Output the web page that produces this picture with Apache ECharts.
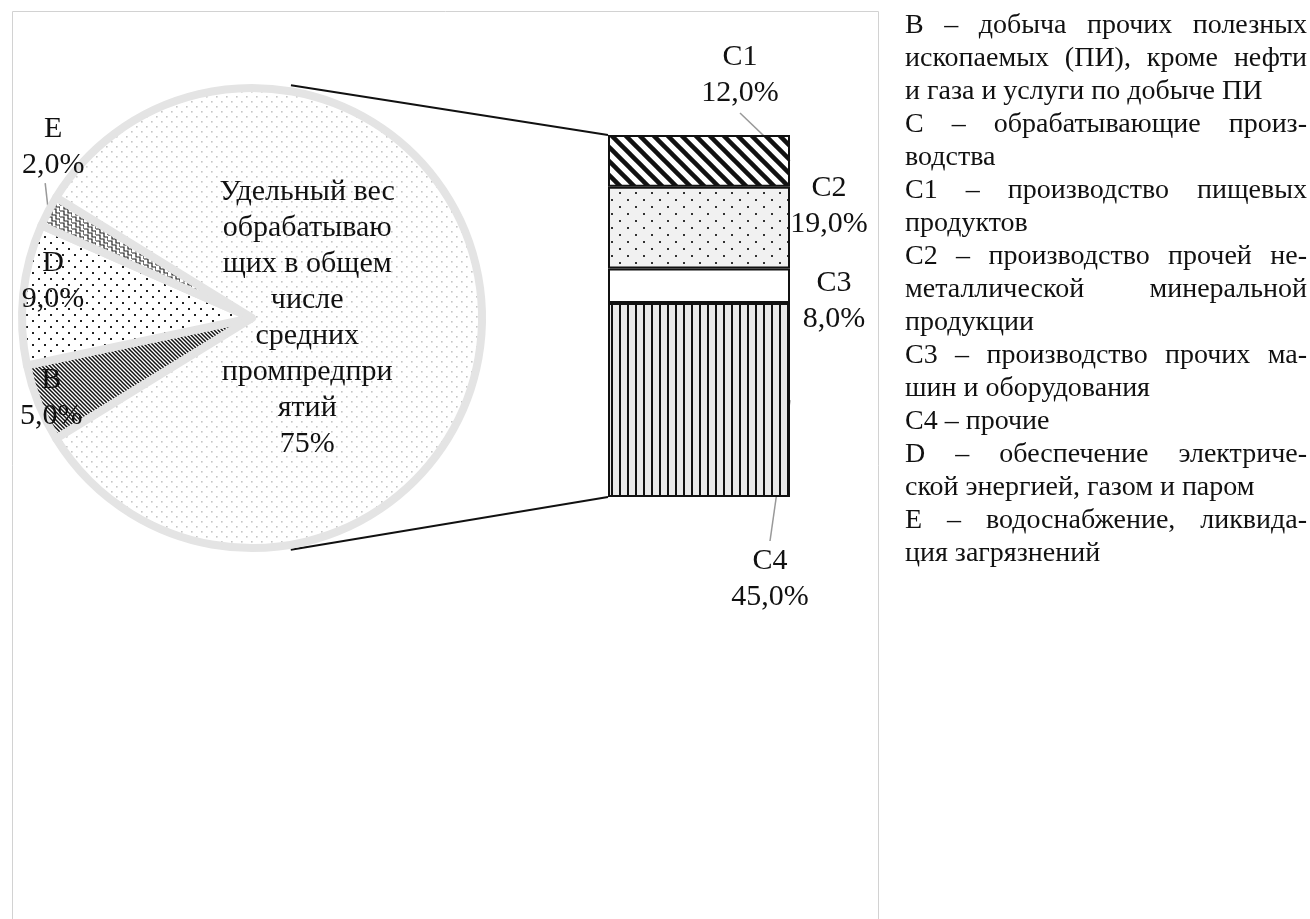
<!DOCTYPE html>
<html><head><meta charset="utf-8">
<script src="https://cdn.jsdelivr.net/npm/echarts@6/dist/echarts.min.js"></script>
<style>html,body{margin:0;padding:0;background:#fff}#c{width:1310px;height:919px}</style>
</head><body><div id="c"></div>
<script>
// ---------- data ----------
const pieNames = ['B', 'D', 'E'];
const pieValues = [5, 9, 2];
const mainName = 'Удельный вес\nобрабатываю\nщих в общем\nчисле\nсредних\nпромпредпри\nятий';
const mainValue = 75;
const barNames = ['C1', 'C2', 'C3', 'C4'];
const barValues = [12, 19, 8, 45];
const legendLines = [
  ['B – добыча прочих полезных', 1],
  ['ископаемых (ПИ), кроме нефти', 1],
  ['и газа и услуги по добыче ПИ', 0],
  ['C – обрабатывающие произ-', 1],
  ['водства', 0],
  ['C1 – производство пищевых', 1],
  ['продуктов', 0],
  ['C2 – производство прочей не-', 1],
  ['металлической минеральной', 1],
  ['продукции', 0],
  ['C3 – производство прочих ма-', 1],
  ['шин и оборудования', 0],
  ['C4 – прочие', 0],
  ['D – обеспечение электриче-', 1],
  ['ской энергией, газом и паром', 0],
  ['E – водоснабжение, ликвида-', 1],
  ['ция загрязнений', 0]
];

// ---------- layout / style ----------
const FONT = '"Liberation Serif", "Times New Roman", serif';
const PIE_CX = 252, PIE_CY = 318, PIE_R = 230;
const GRID = {left: 608, top: 135, width: 182, height: 362};
const LEG = {x: 905, right: 1307, y0: 26, dy: 33, size: 28};

function tile(w, h, draw) {
  const c = document.createElement('canvas'); c.width = w; c.height = h;
  const g = c.getContext('2d'); draw(g, w, h); return c;
}
const pats = {
  main: tile(10, 10, g => { g.fillStyle = '#fff'; g.fillRect(0,0,10,10); g.fillStyle = '#c6c6c6'; g.fillRect(1,1,1.6,1.6); g.fillRect(6,6,1.6,1.6); }),
  E: tile(12, 12, g => { g.fillStyle = '#fff'; g.fillRect(0,0,12,12); g.strokeStyle = '#222'; g.lineWidth = 1.2;
      for (const o of [-12, -6, 0, 6, 12]) { g.beginPath(); g.moveTo(0,1+o); g.lineTo(4,1+o); g.lineTo(4,5+o); g.lineTo(8,5+o); g.lineTo(8,9+o); g.lineTo(12,9+o); g.lineTo(12,13+o); g.stroke(); } }),
  D: tile(12, 12, g => { g.fillStyle = '#fff'; g.fillRect(0,0,12,12); g.fillStyle = '#222'; g.fillRect(2,2,2,2); g.fillRect(8,8,2,2); }),
  B: tile(4, 4, g => { g.fillStyle = '#fff'; g.fillRect(0,0,4,4); g.strokeStyle = '#111'; g.lineWidth = 1.5;
      for (const k of [-4, 0, 4]) { g.beginPath(); g.moveTo(k-1,-1); g.lineTo(k+5,5); g.stroke(); } }),
  C1: tile(14, 14, g => { g.fillStyle = '#fff'; g.fillRect(0,0,14,14); g.strokeStyle = '#111'; g.lineWidth = 4.5;
      for (const k of [-14, 0, 14]) { g.beginPath(); g.moveTo(k-2,-2); g.lineTo(k+16,16); g.stroke(); } }),
  C2: tile(16, 14, g => { g.fillStyle = '#f1f1f1'; g.fillRect(0,0,16,14); g.fillStyle = '#333'; g.fillRect(3,3,2,2); g.fillRect(11,10,2,2); }),
  C3: tile(4, 4, g => { g.fillStyle = '#fff'; g.fillRect(0,0,4,4); }),
  C4: tile(8, 8, g => { g.fillStyle = '#e9e9e9'; g.fillRect(0,0,8,8); g.fillStyle = '#111'; g.fillRect(3,0,2,8); })
};
const fill = k => ({image: pats[k], repeat: 'repeat'});
const pct = v => v.toFixed(1).replace('.', ',') + '%';

// pie geometry derived from data
const smallTotal = pieValues.reduce((a, b) => a + b, 0);
const barTotal = barValues.reduce((a, b) => a + b, 0);
const total = smallTotal + mainValue;
const startAngle = 180 + smallTotal / total * 180;
const allValues = pieValues.concat([mainValue]);
const mids = []; { let a = startAngle; allValues.forEach(v => { const s = v / total * 360; mids.push(a - s / 2); a -= s; }); }
// label placement: [radius factor, angle tweak]
const labelPlace = [[0.94, 0], [0.88, -4.7], [1.14, -13], [0.24, 0]];

const pieData = pieNames.map((n, i) => ({name: n, value: pieValues[i], itemStyle: {color: fill(n)}}))
  .concat([{name: mainName, value: mainValue, itemStyle: {color: fill('main')}}]);

const labelBase = {fontFamily: FONT, fontSize: 30, lineHeight: 36, color: '#111'};
// bar label placement: position, offset
const barLabelPos = {C1: ['top', [41, -19]], C2: ['right', [34, -22]], C3: ['right', [39, 15]], C4: ['bottom', [71, 41]]};

const barSeries = barNames.slice().reverse().map(n => {
  const i = barNames.indexOf(n);
  return {
    type: 'bar', name: n, stack: 'c', barWidth: '100%', data: [barValues[i]],
    itemStyle: {color: fill(n), borderColor: '#111', borderWidth: 2},
    label: Object.assign({show: true, position: barLabelPos[n][0], offset: barLabelPos[n][1], align: 'center', distance: 5,
      formatter: p => p.seriesName + '\n' + pct(p.value)}, labelBase),
    emphasis: {disabled: true}, silent: true
  };
});

const option = {
  animation: false,
  backgroundColor: '#fff',
  grid: Object.assign({}, GRID),
  xAxis: {type: 'category', data: ['C'], show: false},
  yAxis: {type: 'value', min: 0, max: barTotal, show: false},
  series: [
    {
      type: 'pie', center: [PIE_CX, PIE_CY], radius: PIE_R, startAngle: startAngle, clockwise: true,
      avoidLabelOverlap: false, silent: true, emphasis: {disabled: true},
      itemStyle: {borderColor: '#e4e4e4', borderWidth: 8},
      label: Object.assign({show: true, position: 'inside', rotate: 0,
        formatter: p => p.dataIndex === 3 ? p.name + '\n' + p.value + '%' : p.name + '\n' + pct(p.value)}, labelBase),
      labelLine: {show: false},
      labelLayout: params => {
        const i = params.dataIndex; const [f, d] = labelPlace[i];
        const a = (mids[i] + d) * Math.PI / 180;
        return {x: PIE_CX + f * PIE_R * Math.cos(a), y: PIE_CY - f * PIE_R * Math.sin(a), align: 'center', verticalAlign: 'middle'};
      },
      data: pieData
    }
  ].concat(barSeries)
};

const chart = echarts.init(document.getElementById('c'), null, {renderer: 'canvas'});
chart.setOption(option);

// ---------- derived decorations ----------
const yPix = v => chart.convertToPixel({yAxisIndex: 0}, v);
const barL = GRID.left, barR = GRID.left + GRID.width, barCX = (barL + barR) / 2;
const topY = yPix(barTotal), botY = yPix(0);
const c1Top = topY, c1Bot = yPix(barTotal - barValues[0]);
const c4Top = yPix(barValues[3]), c4Bot = botY;
const polar = (r, deg) => [PIE_CX + r * Math.cos(deg * Math.PI / 180), PIE_CY - r * Math.sin(deg * Math.PI / 180)];

const graphics = [];
// frame
graphics.push({type: 'rect', shape: {x: 12.5, y: 11.5, width: 866, height: 940}, style: {fill: 'none', stroke: '#d2d2d2', lineWidth: 1}, silent: true});
// connectors pie -> bar
const pT = polar(PIE_R + 6, 80.5), pB = polar(PIE_R + 5, -80.5);
graphics.push({type: 'line', shape: {x1: pT[0], y1: pT[1], x2: barL, y2: topY}, style: {stroke: '#111', lineWidth: 2}, silent: true});
graphics.push({type: 'line', shape: {x1: pB[0], y1: pB[1], x2: barL, y2: botY}, style: {stroke: '#111', lineWidth: 2}, silent: true});
// leader lines for C1, C4
const c1LabelBottom = c1Top - 5 + barLabelPos.C1[1][1];
graphics.push({type: 'line', shape: {x1: barCX + barLabelPos.C1[1][0], y1: c1LabelBottom + 2, x2: barR, y2: (c1Top + c1Bot) / 2}, style: {stroke: '#999', lineWidth: 1.5}, silent: true});
const c4LabelTop = c4Bot + 5 + barLabelPos.C4[1][1];
graphics.push({type: 'line', shape: {x1: barCX + barLabelPos.C4[1][0], y1: c4LabelTop - 2, x2: barR, y2: (c4Top + c4Bot) / 2}, style: {stroke: '#999', lineWidth: 1.5}, silent: true});
// leader for E
{
  const i = 2; const [f, d] = labelPlace[i];
  const lc = polar(f * PIE_R, mids[i] + d);
  const end = polar(PIE_R, mids[i]);
  graphics.push({type: 'line', shape: {x1: lc[0] - 8, y1: lc[1] + 36, x2: end[0], y2: end[1]}, style: {stroke: '#999', lineWidth: 1.5}, silent: true});
}
// legend text (justified lines)
const ctx = document.createElement('canvas').getContext('2d');
const legFont = LEG.size + 'px ' + FONT;
ctx.font = legFont;
legendLines.forEach(([txt, just], i) => {
  const y = LEG.y0 + i * LEG.dy;
  if (!just) {
    graphics.push({type: 'text', x: LEG.x, y: y, silent: true, style: {text: txt, font: legFont, fill: '#111', align: 'left', verticalAlign: 'middle', textAlign: 'left', textVerticalAlign: 'middle'}});
  } else {
    const words = txt.split(' ');
    const widths = words.map(w => ctx.measureText(w).width);
    const sum = widths.reduce((a, b) => a + b, 0);
    const gap = (LEG.right - LEG.x - sum) / (words.length - 1);
    let x = LEG.x;
    words.forEach((w, k) => {
      graphics.push({type: 'text', x: x, y: y, silent: true, style: {text: w, font: legFont, fill: '#111', align: 'left', verticalAlign: 'middle', textAlign: 'left', textVerticalAlign: 'middle'}});
      x += widths[k] + gap;
    });
  }
});
chart.setOption({graphic: graphics});
</script>
</body></html>
